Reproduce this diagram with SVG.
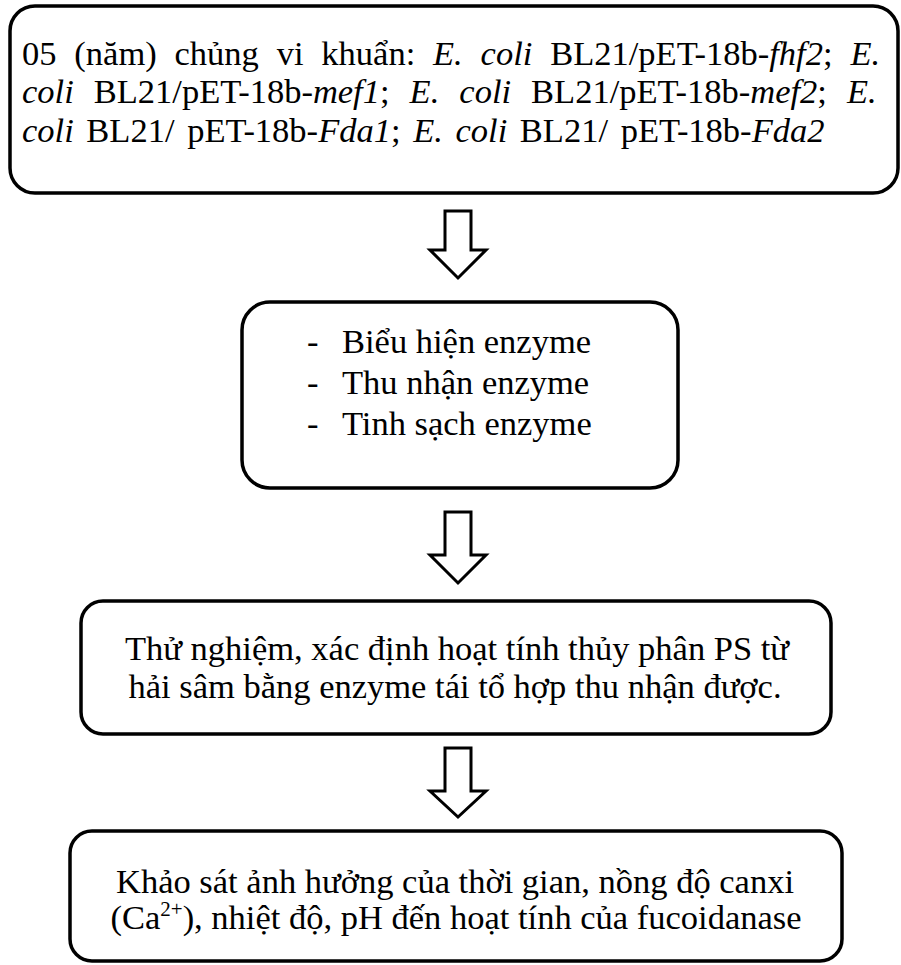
<svg xmlns="http://www.w3.org/2000/svg" width="901" height="965" viewBox="0 0 901 965">
<style>
.box{fill:#fff;stroke:#000;stroke-width:3.5}
.arr{fill:#fff;stroke:#000;stroke-width:3;stroke-linejoin:miter}
text{font-family:"Liberation Serif","Times New Roman",serif;font-size:34.5px;fill:#000}
.i{font-style:italic}
</style>
<rect width="901" height="965" fill="#fff"/>
<g id="node1">
<rect class="box" x="10" y="6" width="888" height="187" rx="25"/>
<text x="22" y="65" word-spacing="9.2">05 (năm) chủng vi khuẩn: <tspan class="i">E. coli</tspan> BL21/pET-18b-<tspan class="i">fhf2</tspan>; <tspan class="i">E.</tspan></text>
<text x="22" y="103" word-spacing="11.4"><tspan class="i">coli</tspan> BL21/pET-18b-<tspan class="i">mef1</tspan>; <tspan class="i">E. coli</tspan> BL21/pET-18b-<tspan class="i">mef2</tspan>; <tspan class="i">E.</tspan></text>
<text x="22" y="142" word-spacing="4"><tspan class="i">coli</tspan> BL21/ pET-18b-<tspan class="i">Fda1</tspan>; <tspan class="i">E. coli</tspan> BL21/ pET-18b-<tspan class="i">Fda2</tspan></text>
</g>
<g id="node2">
<rect class="box" x="242" y="302" width="436" height="186" rx="28"/>
<text x="307" y="353">-</text><text x="342" y="353">Biểu hiện enzyme</text>
<text x="307" y="394">-</text><text x="342" y="394">Thu nhận enzyme</text>
<text x="307" y="435">-</text><text x="342" y="435">Tinh sạch enzyme</text>
</g>
<g id="node3">
<rect class="box" x="81" y="601" width="750" height="133" rx="22"/>
<text x="457" y="660" text-anchor="middle">Thử nghiệm, xác định hoạt tính thủy phân PS từ</text>
<text x="455" y="698" text-anchor="middle">hải sâm bằng enzyme tái tổ hợp thu nhận được.</text>
</g>
<g id="node4">
<rect class="box" x="70" y="831" width="772" height="130" rx="22"/>
<text x="455" y="893" text-anchor="middle">Khảo sát ảnh hưởng của thời gian, nồng độ canxi</text>
<text x="456" y="929" text-anchor="middle">(Ca<tspan font-size="21" dy="-13">2+</tspan><tspan dy="13">), nhiệt độ, pH đến hoạt tính của fucoidanase</tspan></text>
</g>
<g id="connectors">
<path class="arr" d="M445,211 H471 V250 H486 L458,278 L430,250 H445 Z"/>
<path class="arr" d="M445,512 H471 V555 H486 L458,583 L430,555 H445 Z"/>
<path class="arr" d="M445,748 H471 V791 H486 L458,817 L430,791 H445 Z"/>
</g>
</svg>
